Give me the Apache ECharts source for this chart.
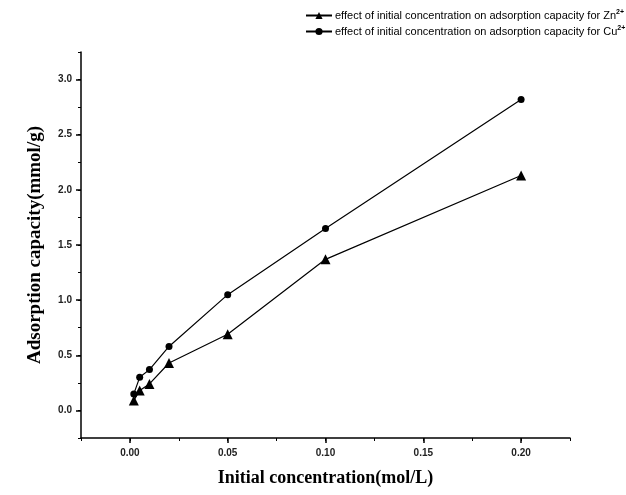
<!DOCTYPE html>
<html>
<head>
    <meta charset="UTF-8">
    <title>Adsorption capacity</title>
    <script src="https://cdn.jsdelivr.net/npm/echarts@6/dist/echarts.min.js"></script>
</head>
<body style="margin:0;background:#fff;">
    <div id="main" style="width:626px;height:495px;"></div>
    <script type="text/javascript">
        // data
        var concentration = [0.002, 0.005, 0.01, 0.02, 0.05, 0.1, 0.2];
        var znCapacity = [0.09, 0.18, 0.24, 0.43, 0.69, 1.37, 2.13];
        var cuCapacity = [0.15, 0.30, 0.37, 0.58, 1.05, 1.65, 2.82];
        var xTicks = [0, 0.05, 0.10, 0.15, 0.20];
        var yTicks = [0, 0.5, 1.0, 1.5, 2.0, 2.5, 3.0];
        var znName = 'Zn';
        var cuName = 'Cu';

        function pairs(xs, ys) {
            return xs.map(function (x, i) { return [x, ys[i]]; });
        }

        var myChart = echarts.init(document.getElementById('main'));
        var lineCol = '#000';
        var axisLine = { show: true, onZero: false, lineStyle: { color: lineCol, width: 1.5 } };
        var tickFont = { fontFamily: 'Liberation Sans, Arial', fontSize: 10, fontWeight: 'bold', color: '#222' };

        var option = {
            animation: false,
            backgroundColor: '#fff',
            legend: {
                orient: 'vertical',
                left: 300,
                top: 4,
                itemGap: 4,
                itemWidth: 26,
                itemHeight: 9,
                data: [znName, cuName],
                formatter: function (name) {
                    return 'effect of initial concentration on adsorption capacity for ' + name + '{sup|2+}';
                },
                textStyle: {
                    fontFamily: 'Liberation Sans Narrow, Liberation Sans, Arial',
                    fontSize: 11,
                    color: '#000',
                    padding: [0, 0, 0, -2],
                    rich: {
                        sup: { fontSize: 7, fontWeight: 'bold', verticalAlign: 'top', padding: [0, 0, 6, 0] }
                    }
                }
            },
            grid: { left: 81, right: 56, top: 52, bottom: 57, containLabel: false, outerBoundsMode: 'none' },
            xAxis: [
                {
                    type: 'value', min: -0.025, max: 0.225, interval: 0.025,
                    axisLine: axisLine,
                    axisTick: { show: true, length: 3, lineStyle: { color: lineCol } },
                    axisLabel: { show: false },
                    splitLine: { show: false }
                },
                {
                    type: 'value', min: -0.025, max: 0.225, position: 'bottom',
                    axisLine: { show: false, onZero: false },
                    axisTick: { show: true, length: 5, customValues: xTicks, lineStyle: { color: lineCol, width: 1.5 } },
                    axisLabel: Object.assign({
                        customValues: xTicks, margin: 10,
                        formatter: function (v) { return v.toFixed(2); }
                    }, tickFont),
                    splitLine: { show: false },
                    name: 'Initial concentration(mol/L)',
                    nameLocation: 'middle',
                    nameGap: 31,
                    nameTextStyle: { fontFamily: 'Liberation Serif, serif', fontWeight: 'bold', fontSize: 18, color: '#000' }
                }
            ],
            yAxis: [
                {
                    type: 'value', min: -0.25, max: 3.25, interval: 0.25,
                    axisLine: axisLine,
                    axisTick: { show: true, length: 3, lineStyle: { color: lineCol } },
                    axisLabel: { show: false },
                    splitLine: { show: false }
                },
                {
                    type: 'value', min: -0.25, max: 3.25, position: 'left',
                    axisLine: { show: false, onZero: false },
                    axisTick: { show: true, length: 5, customValues: yTicks, lineStyle: { color: lineCol, width: 1.5 } },
                    axisLabel: Object.assign({
                        customValues: yTicks, margin: 9,
                        formatter: function (v) { return v.toFixed(1); }
                    }, tickFont),
                    splitLine: { show: false },
                    name: 'Adsorption capacity(mmol/g)',
                    nameLocation: 'middle',
                    nameGap: 36,
                    nameTextStyle: { fontFamily: 'Liberation Serif, serif', fontWeight: 'bold', fontSize: 19, color: '#000' }
                }
            ],
            series: [
                {
                    name: znName,
                    type: 'line',
                    data: pairs(concentration, znCapacity),
                    symbol: 'triangle',
                    symbolSize: 10,
                    itemStyle: { color: '#000' },
                    lineStyle: { color: '#000', width: 1.2 }
                },
                {
                    name: cuName,
                    type: 'line',
                    data: pairs(concentration, cuCapacity),
                    symbol: 'circle',
                    symbolSize: 7,
                    itemStyle: { color: '#000' },
                    lineStyle: { color: '#000', width: 1.2 }
                }
            ]
        };
        myChart.setOption(option);
    </script>
</body>
</html>
